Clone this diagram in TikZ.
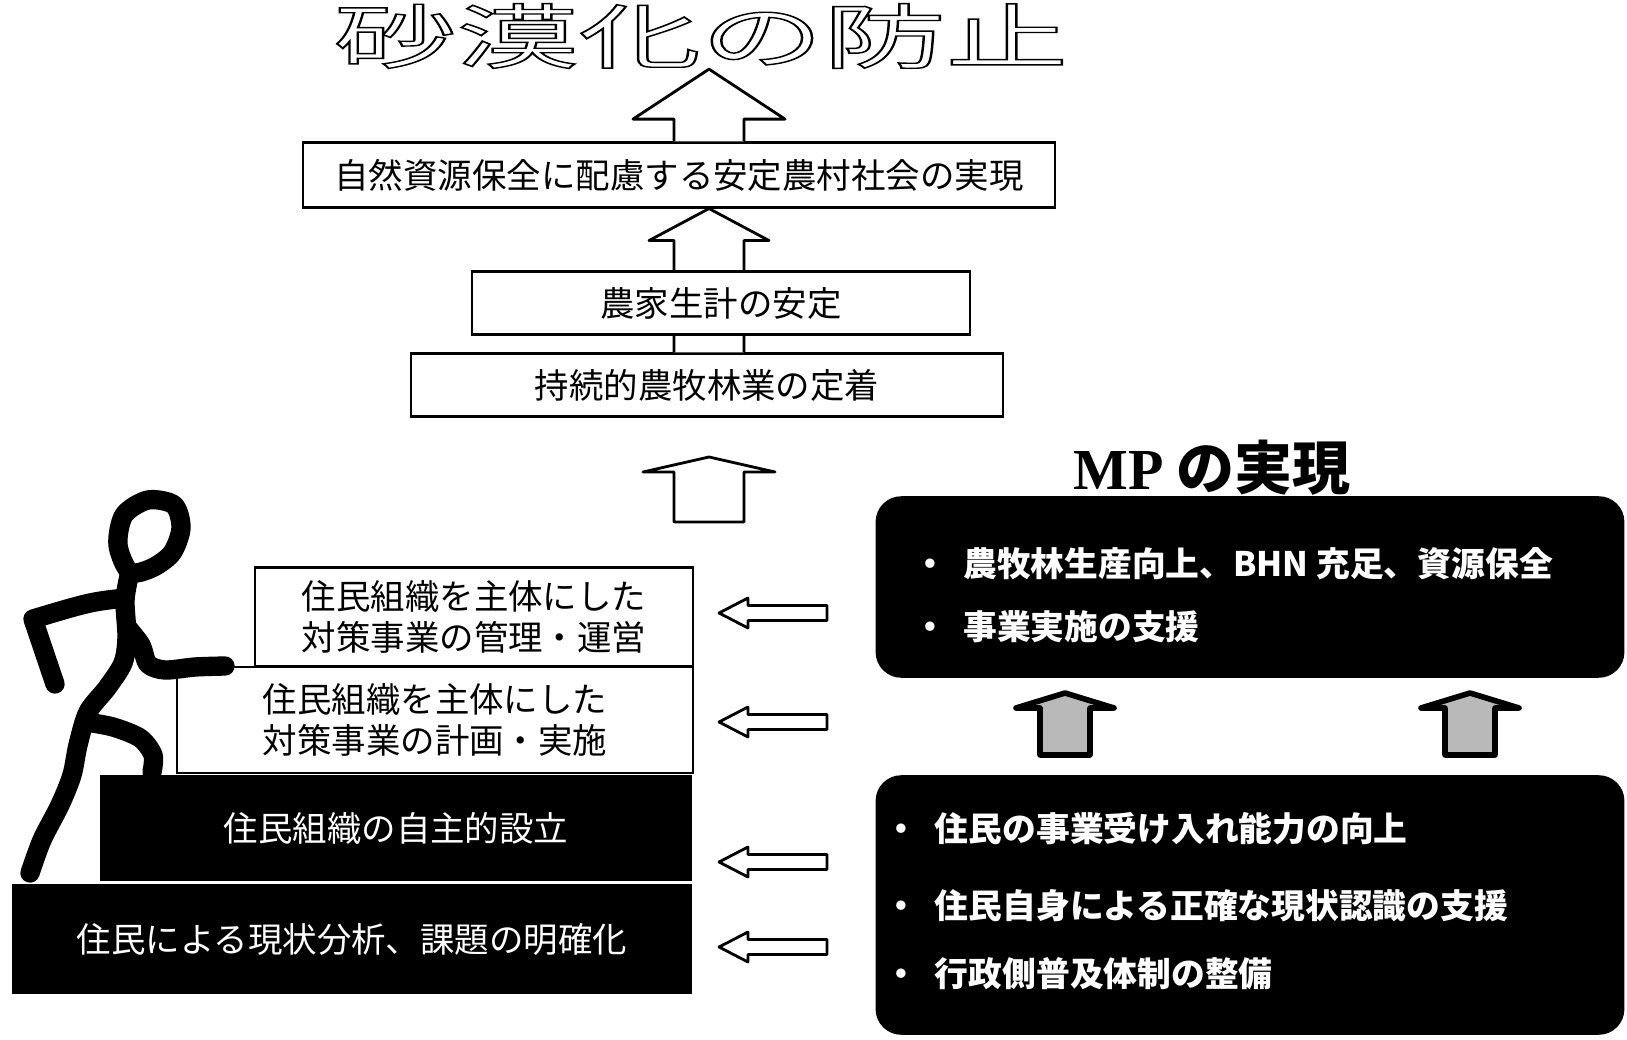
\documentclass[tikz,border=0pt]{standalone}
\usepackage{fontspec}
\setmainfont{Noto Sans CJK JP}
\newfontfamily\mpfont{Liberation Serif}
\usetikzlibrary{calc}
\tikzset{box/.style={ % white boxes of the upper chain
draw, line width=0.6pt, fill=white, inner sep=0pt,
font=\fontsize{9.8}{11.8}\selectfont},
stepbox/.style={ % steps of the staircase
draw, line width=0.6pt, fill=white, inner sep=0pt, align=center,
font=\fontsize{9.8}{11.8}\selectfont},
darkstep/.style={stepbox, fill=black, text=white},
panel/.style={draw, fill=black, rounded corners=0.25cm, inner sep=0pt},
point/.style={anchor=west, inner sep=0pt, text=white, % bullet lines
font=\bfseries\fontsize{9.6}{11.5}\selectfont},
hollow/.style={draw, fill=white, line width=0.8pt, line join=round},
shaded/.style={draw, fill=gray!55, line width=1.6pt, line join=round},
stick/.style={line width=5.5pt, line cap=round, line join=round}}
% block arrow pointing up: base, tip, half stem, half head, head length, style
\newcommand{\blockup}[6]{\filldraw[#6] ($(#1)+(-#3,0)$) -- ($(#2)+(-#3,#5)$) -- ($(#2)+(-#4,#5)$) -- (#2) -- ($(#2)+(#4,#5)$) -- ($(#2)+(#3,#5)$) -- ($(#1)+(#3,0)$)}
% block arrow pointing left: tail, tip, half shaft, half head, head length, style
\newcommand{\blockleft}[6]{\filldraw[#6] ($(#1)+(0,-#3)$) -- ($(#2)+(#5,-#3)$) -- ($(#2)+(#5,-#4)$) -- (#2) -- ($(#2)+(#5,#4)$) -- ($(#2)+(#5,#3)$) -- ($(#1)+(0,#3)$) -- cycle;}
\begin{document}
\begin{tikzpicture}[x=0.01cm, y=-0.01cm]
\useasboundingbox (0,0) rectangle (1627,1040);
\coordinate (spine) at (709,0);
\node[inner sep=0pt, font=\fontsize{20}{24}\selectfont] (goal) at (701,36)
  {\scalebox{1.74}[1]{\special{pdf:literal direct 1 Tr 0.4 w}砂漠化の防止\special{pdf:literal direct 0 Tr}}};
\node[box, minimum width=7.52cm, minimum height=0.65cm] (nature) at (679,175) {自然資源保全に配慮する安定農村社会の実現};
\node[box, minimum width=5.91cm, minimum height=0.63cm] (farming) at (707,385) {持続的農牧林業の定着};
\blockup{spine |- nature.north}{spine |- goal.south}{35}{76}{50}{hollow};
\blockup{spine |- farming.north}{spine |- nature.south}{35}{60}{32}{hollow};
\node[box, minimum width=4.98cm, minimum height=0.63cm] (income) at (721,303) {農家生計の安定};
\coordinate (climb) at (709,522);
\coordinate (climbtip) at (709,457);
\blockup{climb}{climbtip}{35}{66}{15}{hollow} -- cycle;

% the staircase
\node[stepbox, minimum width=4.38cm, minimum height=0.99cm] (manage) at (474,617) {住民組織を主体にした\\対策事業の管理・運営};
\node[stepbox, minimum width=5.15cm, minimum height=1.06cm] (plan) at (435,720) {住民組織を主体にした\\対策事業の計画・実施};
\node[darkstep, minimum width=5.9cm, minimum height=1.03cm] (setup) at (396,828) {住民組織の自主的設立};
\node[darkstep, minimum width=6.78cm, minimum height=1.08cm] (survey) at (352,939) {住民による現状分析、課題の明確化};

% the climber
\draw[stick] plot[smooth cycle] coordinates {(130,572) (118,545) (124,515) (148,500) (174,505) (181,528) (172,553) (152,568)};
\draw[stick] plot[smooth] coordinates {(130,572) (125,600) (127,637) (123,663) (107,688) (88,712) (78,745) (72,775) (60,805) (42,840) (30,873)};
\draw[stick] plot[smooth] coordinates {(86,722) (113,727) (140,738) (153,755) (152,772)};
\draw[stick] (125,598) .. controls (90,602) .. (33,619) -- (55,684);
\draw[stick] plot[smooth] coordinates {(127,627) (141,645) (148,664) (165,670) (195,667) (225,666)};

% MP side
\node[font=\bfseries\fontsize{16.5}{19}\selectfont] (mptitle) at (1212,468) {{\mpfont MP} の実現};
\node[panel, minimum width=7.47cm, minimum height=1.8cm] (mp) at (1250,587) {};
\node[point] (mp1) at (913,564) {・\hspace{4.5pt}農牧林生産向上、BHN 充足、資源保全};
\node[point] (mp2) at (913,627) {・\hspace{4.5pt}事業実施の支援};
\node[panel, minimum width=7.47cm, minimum height=2.58cm] (support) at (1250,905) {};
\node[point] (sup1) at (884,829) {・\hspace{4.7pt}住民の事業受け入れ能力の向上};
\node[point] (sup2) at (884,906) {・\hspace{4.7pt}住民自身による正確な現状認識の支援};
\node[point] (sup3) at (884,974) {・\hspace{4.7pt}行政側普及体制の整備};

\coordinate (lift1) at (1065,755);
\coordinate (lift1tip) at (1065,693);
\coordinate (lift2) at (1470,755);
\coordinate (lift2tip) at (1470,693);
\blockup{lift1}{lift1tip}{25}{49}{15}{shaded} -- cycle;
\blockup{lift2}{lift2tip}{25}{49}{15}{shaded} -- cycle;

\foreach \h [count=\i] in {613,722,862,947} {
  \coordinate (back\i) at (827,\h);
  \coordinate (aim\i) at (719,\h);
  \blockleft{back\i}{aim\i}{7.5}{15}{29}{hollow}
}
\end{tikzpicture}
\end{document}
